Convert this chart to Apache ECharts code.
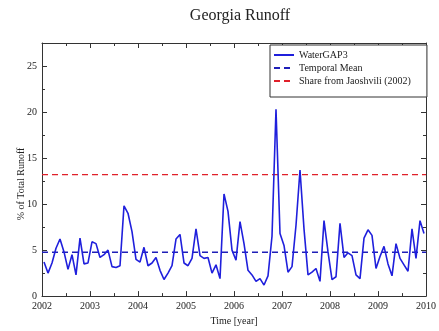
<!DOCTYPE html>
<html>
<head>
<meta charset="utf-8">
<script src="https://cdn.jsdelivr.net/npm/echarts@6/dist/echarts.min.js"></script>
<style>
  html, body { margin: 0; padding: 0; background: #fff; }
  #chart { width: 439px; height: 331px; }
</style>
</head>
<body>
<div id="chart"></div>
<script>
// Monthly share of Georgia's runoff in total runoff, 2002-2009 (%)
const startYear = 2002;
const endYear = 2010;
const runoff2002 = [3.7, 2.5, 3.6, 5.2, 6.2, 4.8, 2.9, 4.5, 2.3, 6.3, 3.5, 3.6];
const runoff2003 = [5.9, 5.7, 4.2, 4.5, 5.0, 3.2, 3.1, 3.3, 9.8, 9.0, 7.0, 4.0];
const runoff2004 = [3.7, 5.3, 3.3, 3.6, 4.2, 2.8, 1.8, 2.5, 3.3, 6.2, 6.7, 3.6];
const runoff2005 = [3.3, 4.1, 7.3, 4.4, 4.1, 4.2, 2.5, 3.4, 1.9, 11.1, 9.2, 5.0];
const runoff2006 = [3.9, 8.1, 5.7, 2.8, 2.3, 1.6, 1.9, 1.2, 2.2, 6.5, 20.3, 6.8];
const runoff2007 = [5.5, 2.6, 3.2, 7.7, 13.7, 7.3, 2.3, 2.6, 3.0, 1.6, 8.2, 4.8];
const runoff2008 = [1.8, 2.1, 7.9, 4.2, 4.7, 4.4, 2.3, 1.9, 6.3, 7.2, 6.6, 3.0];
const runoff2009 = [4.3, 5.4, 3.5, 2.2, 5.7, 4.1, 3.4, 2.7, 7.3, 4.1, 8.2, 6.8];
const jaoshviliShare = 13.2;

const monthly = [].concat(runoff2002, runoff2003, runoff2004, runoff2005,
                          runoff2006, runoff2007, runoff2008, runoff2009);
const temporalMean = monthly.reduce((a, b) => a + b, 0) / monthly.length;

// each month plotted at its middle
const waterGapData = monthly.map((v, i) => [startYear + (i + 0.5) / 12, v]);

const serif = 'Liberation Serif, Times New Roman, serif';
const frameColor = '#333';

function xAxisDef(position, showLabels) {
  return {
    type: 'value', position: position, min: startYear, max: endYear, interval: 1,
    axisLine: { show: true, onZero: false, lineStyle: { color: frameColor, width: 1 } },
    axisTick: { show: true, inside: true, length: 5, lineStyle: { color: frameColor } },
    minorTick: { show: true, splitNumber: 2, length: 3, lineStyle: { color: frameColor } },
    splitLine: { show: false },
    axisLabel: { show: showLabels, fontFamily: serif, fontSize: 10, color: '#222', margin: 5,
                 formatter: v => String(Math.round(v)) },
    name: showLabels ? 'Time [year]' : '',
    nameLocation: 'middle', nameGap: 18,
    nameTextStyle: { fontFamily: serif, fontSize: 10, color: '#222' }
  };
}
function yAxisDef(position, showLabels) {
  return {
    type: 'value', position: position, min: 0, max: 27.5, interval: 5,
    axisLine: { show: true, onZero: false, lineStyle: { color: frameColor, width: 1 } },
    axisTick: { show: true, inside: true, length: 5, lineStyle: { color: frameColor } },
    minorTick: { show: true, splitNumber: 2, length: 3, lineStyle: { color: frameColor } },
    splitLine: { show: false },
    axisLabel: { show: showLabels, fontFamily: serif, fontSize: 10, color: '#222', margin: 5,
                 formatter: v => (v % 5 === 0 ? String(v) : '') }
  };
}

const chart = echarts.init(document.getElementById('chart'), null, { renderer: 'canvas' });
chart.setOption({
  animation: false,
  backgroundColor: '#fff',
  title: {
    text: 'Georgia Runoff', left: 235, top: 3, textAlign: 'center',
    textStyle: { fontFamily: serif, fontSize: 16, fontWeight: 'normal', color: '#222' }
  },
  grid: { left: 42, right: 10, top: 43, bottom: 32, containLabel: false },
  xAxis: [xAxisDef('bottom', true), xAxisDef('top', false)],
  yAxis: [yAxisDef('left', true), yAxisDef('right', false)],
  legend: {
    orient: 'vertical', left: 270, top: 45,
    padding: [5, 16, 11, 3], itemGap: 3, itemWidth: 20, itemHeight: 10,
    borderColor: '#333', borderWidth: 1, backgroundColor: '#fff',
    itemStyle: { opacity: 0 },
    textStyle: { fontFamily: serif, fontSize: 10, color: '#222' },
    data: ['WaterGAP3', 'Temporal Mean', 'Share from Jaoshvili (2002)']
  },
  graphic: [{
    type: 'text', x: 21, y: 184, rotation: Math.PI / 2,
    style: { text: '% of Total Runoff', font: '10px ' + serif, fill: '#222',
             textAlign: 'center', textVerticalAlign: 'middle' }
  }],
  series: [
    {
      name: 'WaterGAP3', type: 'line', data: waterGapData,
      showSymbol: false, symbol: 'none',
      lineStyle: { color: '#1f1fdc', width: 1.6 }, itemStyle: { color: '#1f1fdc' },
      z: 3
    },
    {
      name: 'Temporal Mean', type: 'line',
      data: [[startYear, temporalMean], [endYear, temporalMean]],
      showSymbol: false, symbol: 'none',
      lineStyle: { color: '#1f1fb8', width: 1.3, type: [6, 4] }, itemStyle: { color: '#1f1fb8' },
      z: 2
    },
    {
      name: 'Share from Jaoshvili (2002)', type: 'line',
      data: [[startYear, jaoshviliShare], [endYear, jaoshviliShare]],
      showSymbol: false, symbol: 'none',
      lineStyle: { color: '#e0202a', width: 1.3, type: [6, 4] }, itemStyle: { color: '#e0202a' },
      z: 2
    }
  ]
});
</script>
</body>
</html>
